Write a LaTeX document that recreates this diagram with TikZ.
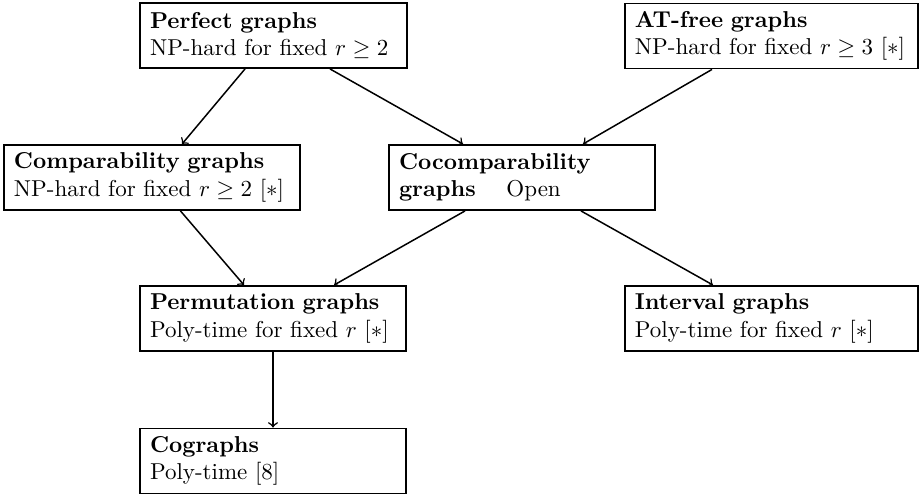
\documentclass[tikz,border=0pt]{standalone}
\usetikzlibrary{calc}
\begin{document}
\begin{tikzpicture}[x=0.435pt, y=-0.435pt,
  gbox/.style={draw, line width=0.8pt, inner xsep=4.35pt, inner ysep=0pt,
    minimum height=28.3pt, align=left, font=\normalsize},
  link/.style={->, line width=0.65pt}]
\useasboundingbox (0,0) rectangle (921,496);

% class boxes
\node[gbox, text width=107.4pt] (perf) at (273.5,35.5)
  {\textbf{Perfect graphs}\\NP-hard for fixed $r \geq 2$};
\node[gbox, text width=118.8pt] (atf) at (771.5,36)
  {\textbf{AT-free graphs}\\NP-hard for fixed $r \geq 3$ $[*]$};
\node[gbox, text width=120.1pt] (comp) at (152,177.5)
  {\textbf{Comparability graphs}\\NP-hard for fixed $r \geq 2$ $[*]$};
\node[gbox, text width=107pt] (cocomp) at (522,177.5)
  {\textbf{Cocomparability}\\\textbf{graphs} \quad Open};
\node[gbox, text width=107pt] (perm) at (273,318.5)
  {\textbf{Permutation graphs}\\Poly-time for fixed $r$ $[*]$};
\node[gbox, text width=118.8pt] (intv) at (771.5,318.5)
  {\textbf{Interval graphs}\\Poly-time for fixed $r$ $[*]$};
\node[gbox, text width=107pt] (cog) at (273,461)
  {\textbf{Cographs}\\Poly-time [8]};

% inclusions
\draw[link] ($(perf.south)+(-28.5,0)$) -- ($(comp.north)+(30,0)$);
\draw[link] ($(perf.south)+(56.5,0)$) -- ($(cocomp.north)+(-59,0)$);
\draw[link] ($(atf.south)+(-59.5,0)$) -- ($(cocomp.north)+(61,0)$);
\draw[link] ($(comp.south)+(28.5,0)$) -- ($(perm.north)+(-29,0)$);
\draw[link] ($(cocomp.south)+(-57,0)$) -- ($(perm.north)+(61,0)$);
\draw[link] ($(cocomp.south)+(59,0)$) -- ($(intv.north)+(-58.5,0)$);
\draw[link] (perm.south) -- (cog.north);
\end{tikzpicture}
\end{document}
